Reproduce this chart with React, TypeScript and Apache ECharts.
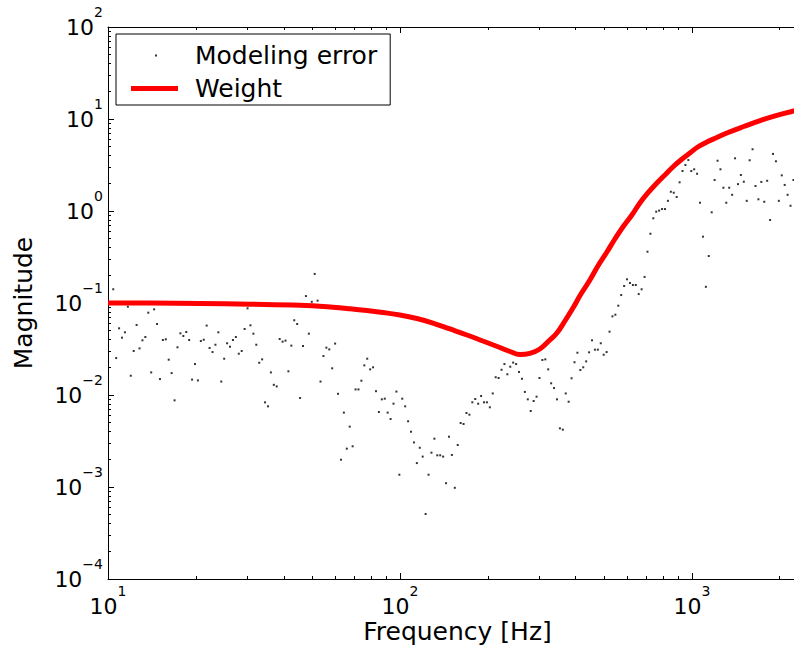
import React, { useEffect, useRef } from "react";
import * as echarts from "echarts";

const FONT = "DejaVu Sans, Liberation Sans, Arial, sans-serif";

// Measured modeling error: samples on a log-spaced grid, 100 points per decade
const errorFreqStartExp = 1.018;
const errorPointsPerDecade = 100;
const modelingError = [
  0.141, 0.0252, 0.0531, 0.042, 0.048, 0.0912, 0.0162, 0.0301, 0.0577, 0.0321,
  0.0393, 0.0427, 0.0785, 0.0176, 0.0853, 0.0591, 0.0149, 0.0396, 0.0403, 0.0242,
  0.0173, 0.00875, 0.033, 0.0468, 0.0438, 0.0484, 0.0396, 0.0147, 0.0217, 0.0144,
  0.0386, 0.0399, 0.0568, 0.0324, 0.0293, 0.0352, 0.048, 0.014, 0.0248, 0.0365,
  0.0335, 0.0396, 0.0427, 0.0281, 0.0301, 0.0522, 0.0875, 0.0572, 0.0464, 0.0352,
  0.0224, 0.0244, 0.00832, 0.00753, 0.0176, 0.0129, 0.0124, 0.0406, 0.038, 0.039,
  0.0181, 0.0344, 0.0649, 0.0591, 0.00927, 0.0341, 0.119, 0.0464, 0.103, 0.207,
  0.106, 0.014, 0.0265, 0.0327, 0.0313, 0.0195, 0.0362, 0.0103, 0.00198, 0.00643,
  0.00261, 0.00453, 0.00277, 0.0115, 0.0115, 0.0143, 0.021, 0.0248, 0.019, 0.02,
  0.011, 0.00653, 0.00897, 0.00912, 0.00643, 0.00548, 0.00805, 0.0109, 0.00136, 0.00912,
  0.00753, 0.00518, 0.00399, 0.00305, 0.00182, 0.00267, 0.00214, 0.000509, 0.00136, 0.00236,
  0.00335, 0.00221, 0.00221, 0.00214, 0.0011, 0.00352, 0.00223, 0.00098, 0.00286, 0.00496,
  0.00484, 0.00637, 0.00611, 0.00833, 0.00905, 0.00804, 0.00976, 0.00833, 0.00833, 0.00735,
  0.0104, 0.0156, 0.0153, 0.0188, 0.0217, 0.0168, 0.0203, 0.0225, 0.0217, 0.0178,
  0.015, 0.0108, 0.00897, 0.0067, 0.00861, 0.00959, 0.0153, 0.024, 0.0244, 0.019,
  0.0134, 0.0119, 0.00897, 0.00434, 0.0042, 0.0104, 0.00845, 0.0152, 0.0227, 0.0288,
  0.0187, 0.02, 0.0232, 0.0291, 0.0393, 0.0311, 0.0311, 0.0365, 0.0274, 0.0293,
  0.0488, 0.0716, 0.0746, 0.0935, 0.122, 0.153, 0.181, 0.165, 0.157, 0.157,
  0.125, 0.141, 0.192, 0.361, 0.566, 0.833, 0.983, 1.01, 1.05, 1.05,
  1.29, 1.62, 1.58, 1.42, 2.05, 2.72, 3.16, 3.58, 2.72, 2.84,
  2.54, 1.23, 0.526, 0.15, 0.324, 0.968, 2.17, 3.52, 2.84, 1.79,
  1.23, 1.79, 1.5, 3.74, 1.96, 2.46, 2.08, 1.29, 3.56, 4.69,
  1.87, 1.34, 2.07, 1.26, 2.13, 0.798, 4.17, 3.47, 1.29, 2.44,
  1.92, 1.5, 1.14, 2.17,
];

// Weight curve
const weightFreq = [
  10, 13.93, 20.66, 30.64, 45.45, 58.95, 67.43, 77.09, 87.46, 100,
  114.3, 129.7, 148.4, 169.7, 192.4, 220.0, 238.1, 257.6, 278.8, 301.6,
  326.3, 344.9, 367.4, 391.4, 416.9, 447.5, 476.6, 511.7, 545, 580.4,
  623.2, 663.7, 706.9, 758.9, 808.3, 860.8, 916.8, 984.4, 1048, 1126,
  1218, 1318, 1507, 1723, 1955, 2235, 2477,
];
const weightMag = [
  0.1, 0.09975, 0.0988, 0.097, 0.0944, 0.09, 0.0867, 0.0829, 0.0788, 0.0741,
  0.0679, 0.0606, 0.0522, 0.0449, 0.0386, 0.0328, 0.0297, 0.0275, 0.0283, 0.0316,
  0.0396, 0.0472, 0.0637, 0.0882, 0.1252, 0.1778, 0.2525, 0.3583, 0.4961, 0.67,
  0.905, 1.222, 1.57, 2.014, 2.461, 3.008, 3.582, 4.267, 4.962, 5.623,
  6.29, 7.04, 8.29, 9.68, 10.97, 12.2, 13.1,
];

const xRange = [10, 2480];
const yRange = [1e-4, 100];
const xMajorTicks = [10, 100, 1000];
const yMajorTicks = [1e-4, 1e-3, 1e-2, 1e-1, 1, 10, 100];
const minorMultipliers = [2, 3, 4, 5, 6, 7, 8, 9];
const xMinorTicks = xMajorTicks.flatMap((m) => minorMultipliers.map((k) => k * m)).filter((v) => v <= xRange[1]);
const yMinorTicks = yMajorTicks.slice(0, -1).flatMap((m) => minorMultipliers.map((k) => k * m));

const seriesNames = ["Modeling error", "Weight"];

const supLabel = (value: number) => {
  const e = Math.round(Math.log10(value));
  const s = e < 0 ? "\u2212" + -e : String(e);
  return `{b|10}{s|${s}}`;
};
const rich = {
  b: { fontFamily: FONT, fontSize: 22, color: "#000" },
  s: { fontFamily: FONT, fontSize: 14, color: "#000", padding: [0, 0, 30, 0] },
};

const lineStyle = { color: "#000", width: 1 };

function xAxis(position: "bottom" | "top", major: boolean, extra: any = {}) {
  return {
    type: "log",
    logBase: 10,
    min: xRange[0],
    max: xRange[1],
    position,
    axisLine: { show: major, lineStyle },
    axisTick: {
      show: true,
      inside: true,
      length: major ? 6 : 3,
      customValues: major ? xMajorTicks : xMinorTicks,
      lineStyle,
    },
    axisLabel: { show: false },
    splitLine: { show: false },
    minorTick: { show: false },
    ...extra,
  };
}

function yAxis(position: "left" | "right", major: boolean, extra: any = {}) {
  return {
    type: "log",
    logBase: 10,
    min: yRange[0],
    max: yRange[1],
    position,
    axisLine: { show: major, lineStyle },
    axisTick: {
      show: true,
      inside: true,
      length: major ? 6 : 3,
      customValues: major ? yMajorTicks : yMinorTicks,
      lineStyle,
    },
    axisLabel: { show: false },
    splitLine: { show: false },
    minorTick: { show: false },
    ...extra,
  };
}

export default function App() {
  const ref = useRef<HTMLDivElement>(null);

  useEffect(() => {
    if (!ref.current) return;
    const chart = echarts.init(ref.current, undefined, { renderer: "svg" });

    const errorData = modelingError.map((v, i) => [
      Math.pow(10, errorFreqStartExp + i / errorPointsPerDecade),
      v,
    ]);
    const weightData = weightFreq.map((f, i) => [f, weightMag[i]]);

    chart.setOption({
      animation: false,
      backgroundColor: "#fff",
      grid: { left: 108, top: 27, right: 3, bottom: 78, containLabel: false, outerBoundsMode: "none" },
      legend: {
        orient: "vertical",
        left: 116,
        top: 34,
        padding: [9, 13, 4, 15],
        itemGap: 8,
        itemWidth: 59,
        itemHeight: 14,
        backgroundColor: "#fff",
        borderColor: "#000",
        borderWidth: 1,
        borderRadius: 0,
        selectedMode: false,
        textStyle: { fontFamily: FONT, fontSize: 25, color: "#000", lineHeight: 24 },
        data: [
          { name: seriesNames[0], icon: "path://M0,0L0.01,0Z M59,14L58.99,14Z M24,6L26,6L26,8L24,8Z" },
          { name: seriesNames[1], icon: "path://M0,0L0.01,0Z M59,14L58.99,14Z M0,4.5L47,4.5L47,9.5L0,9.5Z" },
        ],
      },
      xAxis: [
        xAxis("bottom", true, {
          name: "Frequency [Hz]",
          nameLocation: "middle",
          nameGap: 40,
          nameMoveOverlap: false,
          nameTextStyle: { fontFamily: FONT, fontSize: 25, color: "#000" },
          axisLabel: {
            show: true,
            customValues: xMajorTicks,
            margin: 5,
            formatter: supLabel,
            rich,
          },
        }),
        xAxis("bottom", false),
        xAxis("top", true),
        xAxis("top", false),
      ],
      yAxis: [
        yAxis("left", true, {
          name: "Magnitude",
          nameLocation: "middle",
          nameRotate: 90,
          nameGap: 72,
          nameMoveOverlap: false,
          nameTextStyle: { fontFamily: FONT, fontSize: 25, color: "#000" },
          axisLabel: {
            show: true,
            customValues: yMajorTicks,
            margin: 5,
            formatter: supLabel,
            rich,
          },
        }),
        yAxis("left", false),
        yAxis("right", true),
        yAxis("right", false),
      ],
      series: [
        {
          name: seriesNames[0],
          type: "scatter",
          xAxisIndex: 0,
          yAxisIndex: 0,
          symbol: "rect",
          symbolSize: 2,
          itemStyle: { color: "#000" },
          data: errorData,
          z: 2,
        },
        {
          name: seriesNames[1],
          type: "line",
          xAxisIndex: 0,
          yAxisIndex: 0,
          symbol: "none",
          smooth: 0.4,
          color: "#ff0000",
          lineStyle: { color: "#ff0000", width: 5 },
          itemStyle: { color: "#ff0000" },
          data: weightData,
          z: 3,
        },
      ],
    });

    return () => chart.dispose();
  }, []);

  return (
    <div style={{ position: "absolute", left: 0, top: 0, width: 794, height: 657, overflow: "hidden", background: "#fff" }}>
      <div ref={ref} style={{ width: 810, height: 657 }} />
    </div>
  );
}
